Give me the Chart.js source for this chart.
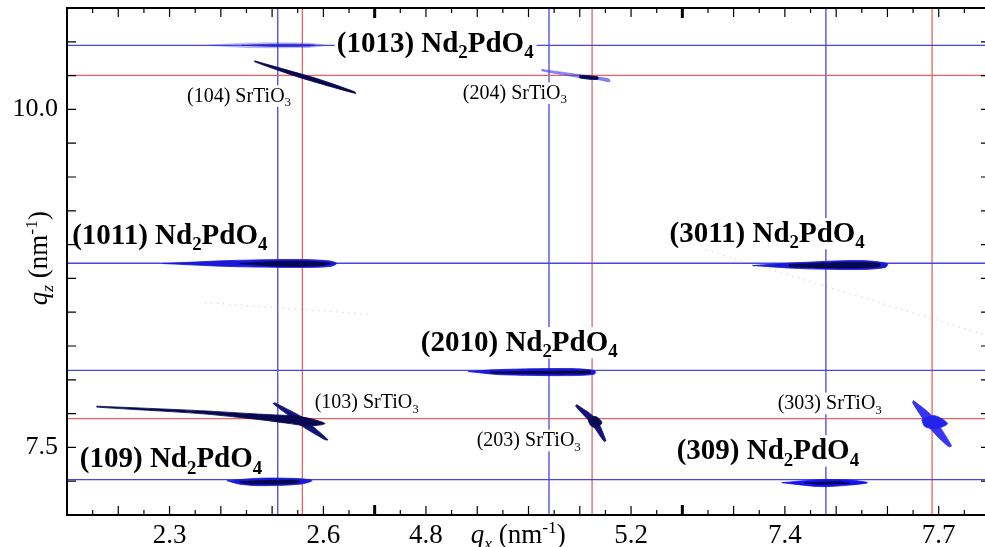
<!DOCTYPE html>
<html>
<head>
<meta charset="utf-8">
<script src="https://cdn.jsdelivr.net/npm/chart.js@4.4.0/dist/chart.umd.min.js"></script>
<style>
    html, body { margin: 0; padding: 0; background: #fff; overflow: hidden; }
    #wrap { width: 995px; height: 547px; }
</style>
</head>
<body>
<div id="wrap"><canvas id="rsm" width="995" height="547"></canvas></div>
<script>
// q_x axis is broken into three windows of 0.6 nm^-1 each
const xWindows = [[2.1, 2.7], [4.7, 5.3], [7.2, 7.8]];
const xTickLabels = ['2.3', '2.6', '4.8', '5.2', '7.4', '7.7'];
const yTickLabels = ['7.5', '10.0'];
const yRange = [7.0, 10.75];

// reference lines (nm^-1): blue = Nd2PdO4 film, red = SrTiO3 substrate
const filmQz = [10.474, 8.862, 8.070, 7.261];
const substrateQz = [10.252, 7.713];
const filmQx = [2.511, 5.040, 7.480];
const substrateQx = [2.559, 5.124, 7.687];

// peak outlines [q_x, q_z]
const film1013 = [[2.373, 10.474], [2.45, 10.490], [2.57, 10.490], [2.603, 10.474], [2.57, 10.458], [2.45, 10.458]];
const film1013Core = [[2.44, 10.474], [2.50, 10.482], [2.57, 10.480], [2.585, 10.474], [2.57, 10.467], [2.50, 10.466]];
const sto104 = [[2.466, 10.359], [2.535, 10.285], [2.589, 10.226], [2.661, 10.130], [2.663, 10.118], [2.589, 10.196], [2.535, 10.259], [2.466, 10.352]];
const sto204 = [[5.026, 10.296], [5.110, 10.252], [5.139, 10.237], [5.158, 10.222], [5.158, 10.204], [5.139, 10.218], [5.110, 10.229], [5.026, 10.285]];
const sto204Core = [[5.100, 10.252], [5.135, 10.241], [5.135, 10.222], [5.100, 10.233]];
const film1011 = [[2.287, 8.860], [2.418, 8.882], [2.554, 8.890], [2.613, 8.879], [2.626, 8.860], [2.613, 8.838], [2.554, 8.831], [2.418, 8.838]];
const film1011Core = [[2.437, 8.860], [2.515, 8.875], [2.593, 8.871], [2.613, 8.860], [2.593, 8.845], [2.515, 8.841]];
const film3011 = [[7.337, 8.845], [7.429, 8.867], [7.546, 8.882], [7.600, 8.860], [7.596, 8.831], [7.546, 8.816], [7.429, 8.823]];
const film3011Core = [[7.409, 8.853], [7.526, 8.867], [7.585, 8.860], [7.585, 8.838], [7.526, 8.827], [7.409, 8.838]];
const film2010 = [[4.882, 8.061], [4.944, 8.076], [5.081, 8.083], [5.129, 8.068], [5.129, 8.042], [5.081, 8.031], [4.944, 8.038]];
const film2010Core = [[4.925, 8.057], [5.120, 8.065], [5.120, 8.046], [4.925, 8.050]];
const sto103 = [[2.158, 7.805], [2.359, 7.772], [2.476, 7.746], [2.535, 7.735], [2.554, 7.728], [2.583, 7.705], [2.603, 7.676], [2.583, 7.661], [2.554, 7.665], [2.535, 7.676], [2.476, 7.705], [2.359, 7.750], [2.158, 7.798]];
const sto103Arm = [[2.505, 7.831], [2.554, 7.735], [2.564, 7.705], [2.609, 7.557], [2.603, 7.557], [2.554, 7.668], [2.543, 7.705], [2.502, 7.824]];
const sto203 = [[5.094, 7.817], [5.131, 7.713], [5.151, 7.550], [5.147, 7.546], [5.123, 7.676], [5.092, 7.805]];
const sto203Core = [[5.116, 7.713], [5.131, 7.728], [5.143, 7.683], [5.131, 7.646], [5.120, 7.668]];
const sto303 = [[7.651, 7.846], [7.686, 7.735], [7.725, 7.513], [7.719, 7.506], [7.682, 7.646], [7.649, 7.831]];
const sto303Core = [[7.667, 7.705], [7.692, 7.735], [7.717, 7.676], [7.694, 7.639], [7.673, 7.654]];
const film109 = [[2.412, 7.254], [2.476, 7.272], [2.554, 7.269], [2.578, 7.254], [2.554, 7.228], [2.476, 7.217], [2.437, 7.228]];
const film109Core = [[2.437, 7.247], [2.535, 7.258], [2.554, 7.247], [2.535, 7.232], [2.447, 7.232]];
const film309 = [[7.394, 7.239], [7.468, 7.261], [7.526, 7.258], [7.561, 7.239], [7.526, 7.221], [7.468, 7.210]];
const film309Core = [[7.439, 7.239], [7.507, 7.246], [7.526, 7.235], [7.468, 7.228]];
// faint diffuse scatter
const diffuseA = [[2.369, 8.571], [2.695, 8.483]];
const diffuseB = [[7.224, 8.986], [7.789, 8.334]];

// peak labels, anchored at left edge / vertical centre
const labelTexts = ['(1013) Nd_2PdO_4', '(104) SrTiO_3', '(204) SrTiO_3', '(1011) Nd_2PdO_4', '(3011) Nd_2PdO_4',
    '(2010) Nd_2PdO_4', '(103) SrTiO_3', '(203) SrTiO_3', '(303) SrTiO_3', '(109) Nd_2PdO_4', '(309) Nd_2PdO_4'];
const labelQx = [2.626, 2.334, 4.872, 2.110, 5.275, 4.790, 2.583, 4.899, 7.386, 2.125, 5.289];
const labelQz = [10.496, 10.104, 10.126, 9.075, 9.090, 8.283, 7.839, 7.557, 7.831, 7.424, 7.483];

const FONT = '"Liberation Serif", "Times New Roman", serif';
const winWidth = xWindows[0][1] - xWindows[0][0];
const axisMax = winWidth * xWindows.length;

// q_x -> position on the broken axis
const toAxis = (qx) => {
    let best = 0;
    xWindows.forEach((w, i) => {
        if (qx >= w[0] - 0.15 && qx <= w[1] + 0.15) best = i;
    });
    return best * winWidth + qx - xWindows[best][0];
};
const toQx = (u) => {
    const i = Math.min(xWindows.length - 1, Math.floor(u / winWidth + 1e-9));
    return xWindows[i][0] + u - i * winWidth;
};

const pts = (list) => list.map(p => ({ x: toAxis(p[0]), y: p[1] }));

const blob = (list, color, order) => ({
    data: pts(list.concat([list[0]])),
    borderColor: color,
    backgroundColor: color,
    borderWidth: 0.8,
    fill: 'shape',
    tension: 0.3,
    pointRadius: 0,
    order: order
});

const refLine = (data, color, width) => ({
    data: data,
    borderColor: color,
    borderWidth: width,
    fill: false,
    pointRadius: 0,
    order: 10
});

const BLUE_LINE = 'rgb(70,70,228)';
const RED_LINE = 'rgb(228,100,100)';
const NAVY = 'rgb(8,8,80)';
const BLUE = 'rgb(25,25,215)';

const datasets = [];
filmQz.forEach(q => datasets.push(refLine([{ x: 0, y: q }, { x: axisMax, y: q }], BLUE_LINE, 1.3)));
substrateQz.forEach(q => datasets.push(refLine([{ x: 0, y: q }, { x: axisMax, y: q }], RED_LINE, 1.3)));
filmQx.forEach(q => datasets.push(refLine([{ x: toAxis(q), y: yRange[0] }, { x: toAxis(q), y: yRange[1] }], BLUE_LINE, 1.3)));
substrateQx.forEach(q => datasets.push(refLine([{ x: toAxis(q), y: yRange[0] }, { x: toAxis(q), y: yRange[1] }], RED_LINE, 1.3)));

[diffuseA, diffuseB].forEach(d => datasets.push({
    data: pts(d), borderColor: 'rgba(140,140,150,0.45)', borderWidth: 1.2,
    borderDash: [1, 5], fill: false, pointRadius: 0, order: 9
}));

datasets.push(blob(film1013, 'rgba(60,60,230,0.3)', 5));
datasets.push(blob(film1013Core, 'rgba(30,30,200,0.75)', 2));
datasets.push(blob(sto104, NAVY, 2));
datasets.push(blob(sto204, 'rgba(60,60,230,0.6)', 5));
datasets.push(blob(sto204Core, NAVY, 2));
datasets.push(blob(film1011, BLUE, 5));
datasets.push(blob(film1011Core, NAVY, 2));
datasets.push(blob(film3011, BLUE, 5));
datasets.push(blob(film3011Core, NAVY, 2));
datasets.push(blob(film2010, BLUE, 5));
datasets.push(blob(film2010Core, NAVY, 2));
datasets.push(blob(sto103, NAVY, 2));
datasets.push(blob(sto103Arm, 'rgb(20,20,120)', 3));
datasets.push(blob(sto203, 'rgb(20,20,120)', 3));
datasets.push(blob(sto203Core, NAVY, 2));
datasets.push(blob(sto303, 'rgb(55,55,240)', 3));
datasets.push(blob(sto303Core, 'rgb(35,35,235)', 2));
datasets.push(blob(film109, BLUE, 5));
datasets.push(blob(film109Core, NAVY, 2));
datasets.push(blob(film309, 'rgb(20,20,240)', 5));
datasets.push(blob(film309Core, NAVY, 2));

// text with _sub and ^sup parts
const parseRich = (text) => {
    const out = [];
    const re = /([_^])(-?\d+)/g;
    let last = 0, m;
    while ((m = re.exec(text))) {
        if (m.index > last) out.push({ t: text.slice(last, m.index), pos: 0 });
        out.push({ t: m[2], pos: m[1] === '_' ? 1 : -1 });
        last = re.lastIndex;
    }
    if (last < text.length) out.push({ t: text.slice(last), pos: 0 });
    return out;
};

const drawRich = (ctx, segs, x, base, size, weight, measureOnly) => {
    let w = 0;
    segs.forEach(s => {
        const fs = s.pos ? size * 0.65 : size;
        ctx.font = (s.italic ? 'italic ' : '') + weight + ' ' + fs + 'px ' + FONT;
        const dy = s.pos === 1 ? size * 0.22 : (s.pos === -1 ? -size * 0.38 : 0);
        if (!measureOnly) ctx.fillText(s.t, x + w, base + dy);
        w += ctx.measureText(s.t).width;
    });
    return w;
};

const xTitle = [{ t: 'q', italic: true }, { t: 'x', pos: 1, italic: true }, { t: ' (nm' }, { t: '-1', pos: -1 }, { t: ')' }];
const yTitle = [{ t: 'q', italic: true }, { t: 'z', pos: 1, italic: true }, { t: ' (nm' }, { t: '-1', pos: -1 }, { t: ')' }];

const rsmDecor = {
    id: 'rsmDecor',
    afterDatasetsDraw: (chart) => {
        const { ctx, chartArea: a, scales: { x, y } } = chart;
        ctx.save();
        ctx.textBaseline = 'alphabetic';
        ctx.textAlign = 'left';

        // peak labels on white boxes
        labelTexts.forEach((txt, i) => {
            const big = txt.indexOf('Nd') >= 0;
            const size = big ? 29 : 20;
            const weight = big ? 'bold' : 'normal';
            const segs = parseRich(txt);
            const px = x.getPixelForValue(toAxis(labelQx[i]));
            const cy = y.getPixelForValue(labelQz[i]);
            const w = drawRich(ctx, segs, px, 0, size, weight, true);
            ctx.fillStyle = '#fff';
            ctx.fillRect(px - 2, cy - size * 0.5, w + 5, size * 1.08);
            ctx.fillStyle = '#000';
            drawRich(ctx, segs, px, cy + size * 0.33, size, weight, false);
        });

        // axis titles
        ctx.fillStyle = '#000';
        const tw = drawRich(ctx, xTitle, 0, 0, 27, 'normal', true);
        drawRich(ctx, xTitle, x.getPixelForValue(toAxis(4.98)) - tw / 2, a.bottom + 28, 27, 'normal', false);
        const yw = drawRich(ctx, yTitle, 0, 0, 27, 'normal', true);
        ctx.save();
        ctx.translate(a.left - 29, y.getPixelForValue(8.9));
        ctx.rotate(-Math.PI / 2);
        drawRich(ctx, yTitle, -yw / 2, 9, 27, 'normal', false);
        ctx.restore();

        // inward ticks, thick marks at the axis breaks
        ctx.strokeStyle = '#000';
        const nx = Math.round(axisMax / 0.05);
        const perWin = Math.round(winWidth / 0.05);
        for (let k = 0; k <= nx; k++) {
            const px = x.getPixelForValue(k * 0.05);
            const brk = k > 0 && k < nx && k % perWin === 0;
            const len = brk ? 10 : (k % 2 === 0 ? 9 : 5);
            ctx.lineWidth = brk ? 3 : 1.2;
            ctx.beginPath();
            ctx.moveTo(px, a.bottom);
            ctx.lineTo(px, a.bottom - len);
            ctx.moveTo(px, a.top);
            ctx.lineTo(px, a.top + len);
            ctx.stroke();
        }
        ctx.lineWidth = 1.2;
        const ny = Math.round((yRange[1] - yRange[0]) / 0.25);
        for (let k = 0; k <= ny; k++) {
            const py = y.getPixelForValue(yRange[0] + k * 0.25);
            ctx.beginPath();
            ctx.moveTo(a.left, py);
            ctx.lineTo(a.left + 9, py);
            ctx.moveTo(a.right, py);
            ctx.lineTo(a.right - 9, py);
            ctx.stroke();
        }
        ctx.lineWidth = 2;
        ctx.strokeRect(a.left, a.top, a.right - a.left, a.bottom - a.top);
        ctx.restore();
    }
};

new Chart(document.getElementById('rsm'), {
    type: 'line',
    data: { datasets: datasets },
    options: {
        responsive: false,
        animation: false,
        events: [],
        layout: { padding: { top: 8, right: 5, left: 0, bottom: 0 } },
        plugins: { legend: { display: false }, tooltip: { enabled: false } },
        scales: {
            x: {
                type: 'linear',
                min: 0,
                max: axisMax,
                grid: { display: false, drawTicks: false },
                border: { display: false },
                afterBuildTicks: (s) => { s.ticks = xTickLabels.map(t => ({ value: toAxis(parseFloat(t)) })); },
                afterFit: (s) => { s.height = 32; s.paddingLeft = 0; s.paddingRight = 0; },
                ticks: {
                    autoSkip: false,
                    maxRotation: 0,
                    padding: 5,
                    color: '#000',
                    font: { family: FONT, size: 27 },
                    callback: (v) => toQx(v).toFixed(1)
                }
            },
            y: {
                type: 'linear',
                min: yRange[0],
                max: yRange[1],
                grid: { display: false, drawTicks: false },
                border: { display: false },
                afterBuildTicks: (s) => { s.ticks = yTickLabels.map(t => ({ value: parseFloat(t) })); },
                afterFit: (s) => { s.width = 67; s.paddingTop = 0; s.paddingBottom = 0; },
                ticks: {
                    autoSkip: false,
                    padding: 9,
                    color: '#000',
                    font: { family: FONT, size: 26 },
                    callback: (v) => v.toFixed(1)
                }
            }
        }
    },
    plugins: [rsmDecor]
});
</script>
</body>
</html>
